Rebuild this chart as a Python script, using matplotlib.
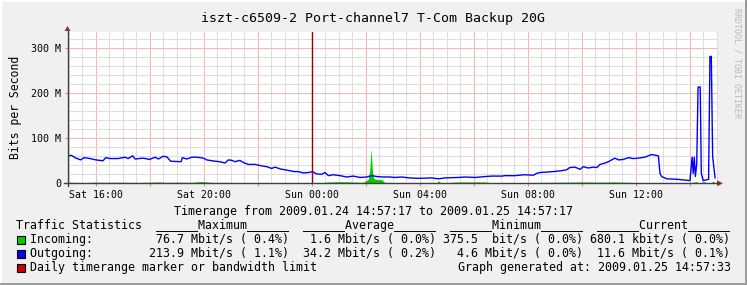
import matplotlib
matplotlib.use('Agg')
import matplotlib.pyplot as plt
from matplotlib.ticker import MultipleLocator, NullFormatter
from matplotlib.transforms import blended_transform_factory, ScaledTranslation
from matplotlib.patches import Rectangle, Polygon
from matplotlib.lines import Line2D

# ---------------- data ----------------
title = "iszt-c6509-2 Port-channel7 T-Com Backup 20G"
ylabel = "Bits per Second"
watermark = "RRDTOOL / TOBI OETIKER"
timerange = "Timerange from 2009.01.24 14:57:17 to 2009.01.25 14:57:17"

# time in hours since Sat 00:00
x_tick_pos = [16, 20, 24, 28, 32, 36]
x_tick_lab = ["Sat 16:00", "Sat 20:00", "Sun 00:00", "Sun 04:00", "Sun 08:00", "Sun 12:00"]
y_tick_pos = [0, 100, 200, 300]
y_tick_lab = ["0", "100 M", "200 M", "300 M"]

# Outgoing (Mbit/s)
out_t = [14.96, 15.11, 15.23, 15.44, 15.57, 15.79, 16.01, 16.27, 16.37, 16.53, 16.83, 17.09,
         17.20, 17.37, 17.46, 17.76, 17.99, 18.20, 18.32, 18.50, 18.63, 18.78, 19.10, 19.16,
         19.21, 19.37, 19.56, 19.74, 19.99, 20.11, 20.42, 20.60, 20.79, 20.91, 21.04, 21.16,
         21.34, 21.47, 21.65, 21.90, 22.12, 22.33, 22.52, 22.64, 22.83, 23.01, 23.20, 23.36,
         23.51, 23.69, 23.88, 24.04, 24.16, 24.37, 24.49, 24.62, 24.80, 25.05, 25.30, 25.54,
         25.79, 26.04, 26.22, 26.41, 26.65, 26.90, 27.09, 27.33, 27.61, 27.95, 28.44, 28.69,
         28.94, 29.43, 29.68, 30.05, 30.42, 30.67, 31.04, 31.16, 31.53, 31.87, 32.21, 32.33,
         32.46, 32.70, 32.95, 33.26, 33.44, 33.56, 33.75, 33.94, 34.06, 34.24, 34.43, 34.56,
         34.68, 34.86, 34.99, 35.11, 35.23, 35.36, 35.54, 35.73, 35.91, 36.10, 36.34, 36.59,
         36.84, 36.90, 36.96, 37.15, 37.52, 38.01, 38.09, 38.13, 38.17, 38.21, 38.26, 38.31,
         38.39, 38.43, 38.50, 38.70, 38.75, 38.80, 38.85, 38.94]
out_v = [61, 62, 57, 52, 57, 55, 52, 50, 57, 55, 55, 58,
         55, 61, 54, 56, 53, 58, 54, 60, 59, 49, 48, 48,
         57, 54, 58, 58, 56, 52, 49, 48, 45, 52, 51, 48,
         51, 46, 42, 42, 39, 37, 33, 36, 32, 30, 28, 26,
         26, 23, 24, 26, 21, 20, 24, 17, 19, 17, 14, 16,
         13, 14, 17, 15, 14, 14, 13, 14, 12, 11, 12, 10,
         12, 13, 14, 13, 15, 16, 16, 17, 17, 19, 18, 22,
         24, 25, 26, 28, 30, 35, 36, 31, 37, 34, 36, 35,
         42, 45, 48, 52, 56, 52, 53, 57, 55, 56, 58, 64,
         61, 22, 15, 10, 9, 6, 58, 22, 58, 15, 43, 213.9,
         213.9, 22, 6, 9, 282, 282, 59, 12]

# Incoming (Mbit/s)
in_t = [14.96, 15.3, 15.6, 16.0, 16.4, 16.8, 17.2, 17.6, 18.0, 18.4, 18.6, 19.0, 19.5, 19.93,
        20.3, 20.8, 21.5, 22.2, 23.0, 23.8, 24.3, 24.6, 25.0, 25.5, 25.9, 26.1, 26.15, 26.2,
        26.25, 26.3, 26.45, 26.6, 26.7, 27.5, 28.4, 28.65, 28.69, 28.75, 29.0, 29.4, 29.9,
        30.4, 30.6, 31.5, 32.5, 33.4, 34.0, 34.6, 35.2, 35.8, 36.4, 36.9, 37.5, 38.0, 38.25,
        38.3, 38.35, 38.55, 38.6, 38.8, 38.85, 38.94]
in_v = [2.5, 2.0, 1.5, 2.5, 2.0, 2.5, 2.0, 2.0, 2.5, 3.0, 2.0, 2.5, 2.0, 4.0,
        2.0, 2.0, 1.5, 1.5, 1.5, 1.5, 1.0, 3.0, 3.5, 3.0, 2.0, 9.0, 30.0, 76.7,
        25.0, 10.0, 8.5, 8.0, 2.0, 1.5, 1.5, 2.0, 6.0, 2.0, 1.5, 3.0, 3.0,
        3.0, 1.5, 1.5, 2.0, 2.5, 3.0, 2.5, 3.0, 2.0, 1.5, 1.0, 0.8, 0.8, 4.0,
        1.0, 1.0, 4.0, 1.0, 1.0, 5.0, 1.0]

marker_t = [24.0]

stats_title = "Traffic Statistics"
stat_headers = ["Maximum", "Average", "Minimum", "Current"]
in_label = "Incoming:"
out_label = "Outgoing:"
marker_label = "Daily timerange marker or bandwidth limit"
in_stats = ["76.7 Mbit/s ( 0.4%)", "1.6 Mbit/s ( 0.0%)", "375.5  bit/s ( 0.0%)", "680.1 kbit/s ( 0.0%)"]
out_stats = ["213.9 Mbit/s ( 1.1%)", "34.2 Mbit/s ( 0.2%)", "4.6 Mbit/s ( 0.0%)", "11.6 Mbit/s ( 0.1%)"]
generated = "Graph generated at: 2009.01.25 14:57:33"

# ---------------- style / layout ----------------
W, H, DPI = 747, 285, 100
MONO = 'DejaVu Sans Mono'
plt.rcParams['font.family'] = MONO

BACK = '#F0F0F0'
GREEN = '#00CC00'
BLUE = '#0000FF'
RED = '#CC0000'

fig = plt.figure(figsize=(W / DPI, H / DPI), dpi=DPI)
fig.patch.set_facecolor(BACK)

def fx(px):
    return px / W

def fy(py):
    return 1 - py / H

# frame shading
fig.add_artist(Rectangle((0, 0), fx(2), 1, transform=fig.transFigure, color='#FFFFFF', lw=0))
fig.add_artist(Rectangle((0, fy(2)), 1, 2 / H, transform=fig.transFigure, color='#FFFFFF', lw=0))
fig.add_artist(Rectangle((fx(W - 2), 0), fx(2), 1, transform=fig.transFigure, color='#9C9C9C', lw=0))
fig.add_artist(Rectangle((0, 0), 1, 2 / H, transform=fig.transFigure, color='#9C9C9C', lw=0))

# axes placement (pixel geometry)
PX_LEFT, PX_RIGHT, PX_TOP, PX_ZERO = 67.5, 718.0, 32.0, 183.3
PX_PER_H = 27.0
PX_T16 = 95.7
PX_PER_M = 0.45
xmin = 16 + (PX_LEFT - PX_T16) / PX_PER_H
xmax = 16 + (PX_RIGHT - PX_T16) / PX_PER_H
ymax = (PX_ZERO - PX_TOP) / PX_PER_M

ax = fig.add_axes([fx(PX_LEFT), fy(PX_ZERO), fx(PX_RIGHT - PX_LEFT), (PX_ZERO - PX_TOP) / H])
ax.set_facecolor('#FFFFFF')
ax.set_xlim(xmin, xmax)
ax.set_ylim(0, ymax)
for s in ax.spines.values():
    s.set_visible(False)

ax.xaxis.set_major_locator(MultipleLocator(2))
ax.xaxis.set_minor_locator(MultipleLocator(0.5))
ax.yaxis.set_major_locator(MultipleLocator(100))
ax.yaxis.set_minor_locator(MultipleLocator(20))
ax.xaxis.set_major_formatter(NullFormatter())
ax.yaxis.set_major_formatter(NullFormatter())
ax.tick_params(which='minor', length=0)
ax.tick_params(which='major', length=2.2, width=0.8, color='#D09090', direction='out')
ax.set_axisbelow(True)
ax.grid(which='minor', color='#DEDEDE', lw=0.8)
ax.grid(which='major', color='#F4BABA', lw=0.8)

# data
ax.fill_between(in_t, 0, in_v, color=GREEN, lw=0, zorder=3)
ax.plot(out_t, out_v, color=BLUE, lw=1.0, zorder=4)
for mt in marker_t:
    ax.axvline(mt, color='#A00000', lw=1.0, zorder=5)

# axis lines and arrows
AXC = '#404040'
ARC = '#993333'
fig.add_artist(Line2D([fx(PX_LEFT), fx(PX_LEFT)], [fy(186), fy(30)], transform=fig.transFigure, color=AXC, lw=1.0))
fig.add_artist(Line2D([fx(64), fx(719)], [fy(PX_ZERO), fy(PX_ZERO)], transform=fig.transFigure, color=AXC, lw=1.0))
fig.add_artist(Polygon([(fx(PX_LEFT - 3), fy(31)), (fx(PX_LEFT + 3), fy(31)), (fx(PX_LEFT), fy(26))],
                       closed=True, transform=fig.transFigure, color=ARC, lw=0))
fig.add_artist(Polygon([(fx(717), fy(PX_ZERO - 3)), (fx(717), fy(PX_ZERO + 3)), (fx(723), fy(PX_ZERO))],
                       closed=True, transform=fig.transFigure, color=ARC, lw=0))

# tick labels
tx = blended_transform_factory(ax.transData, fig.transFigure)
for t, lab in zip(x_tick_pos, x_tick_lab):
    ax.text(t, fy(198.3), lab, transform=tx, ha='center', va='baseline', fontsize=7.1, clip_on=False)
ty = blended_transform_factory(fig.transFigure, ax.transData) + ScaledTranslation(0, -3.3 / DPI, fig.dpi_scale_trans)
for v, lab in zip(y_tick_pos, y_tick_lab):
    ax.text(fx(61), v, lab, transform=ty, ha='right', va='baseline', fontsize=7.2, clip_on=False)

# titles
fig.text(fx(373.4), fy(21.7), title, ha='center', va='baseline', fontsize=9.5)
fig.text(fx(15.5), fy(107), ylabel, rotation=90, ha='center', va='center', fontsize=8.3)
fig.text(fx(736.5), fy(63), watermark, rotation=270, ha='center', va='center', fontsize=6.0, color='#B8B8B8')

# legend
LFS = 8.4
fig.text(fx(373.5), fy(215), timerange, ha='center', va='baseline', fontsize=LFS)
row1 = stats_title + "".join("  " + ("______" + h + "______") for h in stat_headers)
fig.text(fx(16), fy(229), row1, ha='left', va='baseline', fontsize=LFS)

def stat_row(label, vals):
    s = label + vals[0].rjust(37 - len(label))
    for v in vals[1:]:
        s += v.rjust(21)
    return s

fig.text(fx(30), fy(243.3), stat_row(in_label, in_stats), ha='left', va='baseline', fontsize=LFS)
fig.text(fx(30), fy(257.3), stat_row(out_label, out_stats), ha='left', va='baseline', fontsize=LFS)
fig.text(fx(30), fy(271.3), marker_label, ha='left', va='baseline', fontsize=LFS)
fig.text(fx(731), fy(271.3), generated, ha='right', va='baseline', fontsize=LFS)

for base, col in [(243.3, GREEN), (257.3, BLUE), (271.3, RED)]:
    fig.add_artist(Rectangle((fx(16.5), fy(base + 0.5)), fx(8), 8 / H, transform=fig.transFigure,
                             facecolor=col, edgecolor='#000000', lw=0.8))

fig.savefig('out.png', dpi=DPI, facecolor=BACK)
